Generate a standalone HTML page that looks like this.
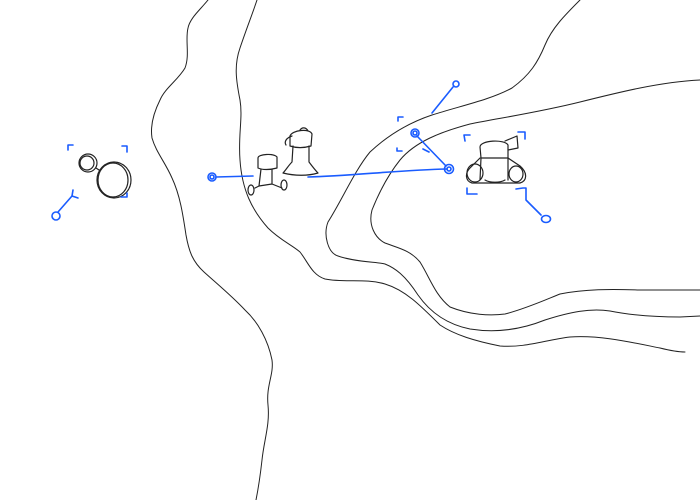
<!DOCTYPE html>
<html><head><style>html,body{margin:0;padding:0;background:#fff}svg{display:block}</style></head>
<body>
<svg width="700" height="500" viewBox="0 0 700 500" xmlns="http://www.w3.org/2000/svg" fill="none" stroke-linecap="round" stroke-linejoin="round">
<g stroke="#222" stroke-width="1">
<path d="M208,0 C200,10 190,18 188,28 C185,40 190,55 185,68 C178,80 165,88 160,100 C154,112 150,125 152,138 C156,152 165,162 172,178 C180,195 183,215 186,235 C189,252 193,262 204,272 C215,282 232,296 245,310 C258,322 268,340 272,360 C274,375 266,385 268,405 C270,425 264,440 262,460 C260,478 258,490 256,500"/>
<path d="M257,0 C252,15 246,30 240,48 C234,65 236,80 240,100 C243,118 238,135 240,160 C242,190 252,210 268,228 C280,240 292,245 300,252 C308,262 312,275 325,279 C345,283 365,278 385,284 C405,290 420,305 440,325 C455,335 475,341 500,346 C525,348 545,340 570,337 C600,335 630,342 660,348 C672,351 680,352 685,352"/>
<path d="M580,0 C565,15 552,28 545,45 C538,62 530,75 512,88 C490,100 460,106 432,115 C405,124 385,138 370,152 C355,170 342,200 328,222 C323,235 328,253 338,256 C355,262 378,262 385,264 C395,268 405,275 418,295 C432,315 450,325 470,329 C495,333 520,330 545,320 C570,312 590,308 610,311 C630,315 650,317 680,317 L700,316"/>
<path d="M700,80 C660,82 620,92 580,102 C540,112 500,118 470,124 C440,132 415,142 400,160 C388,175 378,195 372,210 C368,225 375,238 385,243 C398,248 410,250 420,262 C430,278 435,295 450,307 C470,315 490,316 505,314 C525,309 545,300 560,294 C585,289 610,289 640,290 L700,290"/>
</g>
<g stroke="#222" stroke-width="1.2">
<circle cx="88" cy="163" r="9"/><circle cx="87" cy="163" r="7"/>
<ellipse cx="114" cy="180" rx="17" ry="18"/><ellipse cx="113" cy="180" rx="15" ry="17"/>
<path d="M96,168 L99,170"/>
<!-- figure 1 -->
<path d="M258,158 C258,154 274,153 277,157 L277,168 C270,170 262,170 258,168 Z"/>
<path d="M261,169 L259,186 L255,188 M272,169 L272,184 L282,188 M259,186 L272,184"/>
<ellipse cx="251" cy="190" rx="3" ry="5"/><ellipse cx="284" cy="185" rx="3" ry="5"/>
<!-- figure 2 -->
<path d="M290,136 C292,130 310,128 312,134 L311,146 C304,148 296,148 290,146 Z"/>
<path d="M292,136 C286,138 284,142 286,145 M300,130 C302,127 306,127 308,131"/>
<path d="M293,146 L292,162 M309,146 L309,162 M292,162 C288,166 286,170 283,173 M309,162 C312,166 315,170 318,173 M283,173 C295,176 308,176 318,173"/>
<!-- tank -->
<path d="M480,147 C480,140 505,139 508,145 L508,158 L481,158 Z"/>
<path d="M505,141 L517,136 L518,148 L508,150"/>
<path d="M480,158 L470,168 C465,173 465,181 472,183 L520,183 C527,181 528,173 520,166 L508,158"/>
<ellipse cx="475" cy="173" rx="8" ry="9"/><ellipse cx="516" cy="174" rx="7" ry="8"/>
<path d="M481,158 L480,180 M508,158 L508,180 M485,180 C490,183 500,183 505,180"/>
</g>
<g stroke="#1a5cff" stroke-width="1.6">
<path d="M68,150 L68,145 L73,145 M122,146 L127,146 L127,152 M127,193 L127,197 L121,197 M73,190 L72,196 L78,198"/>
<path d="M72,196 L58,212"/><ellipse cx="56" cy="216" rx="4" ry="4"/>
<circle cx="212" cy="177" r="4"/><circle cx="212" cy="177" r="2"/>
<path d="M216,177 L253,176"/>
<path d="M308,177 C350,176 400,170 447,169"/>
<circle cx="449" cy="169" r="4.5"/><circle cx="449" cy="169" r="2"/>
<circle cx="415" cy="133" r="4"/><circle cx="415" cy="133" r="2"/>
<path d="M417,136 L446,166 M398,121 L398,117 L403,117 M397,148 L397,151 L402,151 M423,149 L429,152 M432,113 L453,87"/>
<circle cx="456" cy="84" r="3"/>
<path d="M465,141 L464,135 L470,135 M518,132 L525,132 L525,139 M467,188 L467,194 L477,194 M516,189 L523,188 L526,188 L526,200 L541,215"/>
<ellipse cx="546" cy="219" rx="4.5" ry="3.5"/>
</g>
</svg>
</body></html>
